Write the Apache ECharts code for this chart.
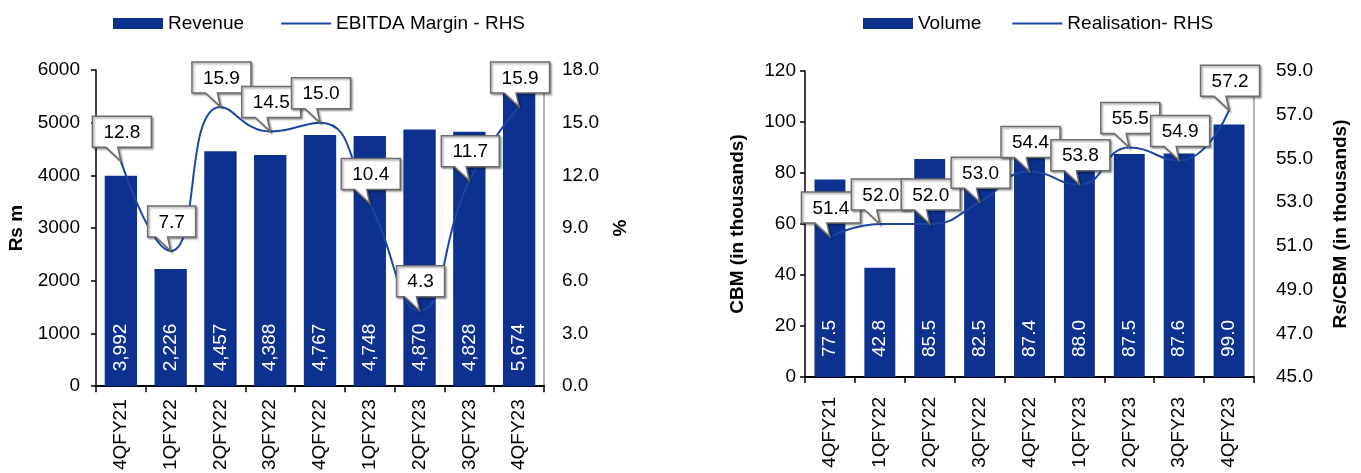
<!DOCTYPE html>
<html>
<head>
<meta charset="utf-8">
<script src="https://cdn.jsdelivr.net/npm/echarts@6/dist/echarts.min.js"></script>
<style>
  html, body { margin: 0; padding: 0; background: #fff; }
  #chart { width: 1361px; height: 473px; }
</style>
</head>
<body>
<div id="chart"></div>
<script>
// Quarterly data
const quarters = ['4QFY21', '1QFY22', '2QFY22', '3QFY22', '4QFY22', '1QFY23', '2QFY23', '3QFY23', '4QFY23'];
const revenue = [3992, 2226, 4457, 4388, 4767, 4748, 4870, 4828, 5674];          // Rs m
const ebitdaMargin = [12.8, 7.7, 15.9, 14.5, 15.0, 10.4, 4.3, 11.7, 15.9];        // %
const volume = [77.5, 42.8, 85.5, 82.5, 87.4, 88.0, 87.5, 87.6, 99.0];            // CBM ('000)
const realisation = [51.4, 52.0, 52.0, 53.0, 54.4, 53.8, 55.5, 54.9, 57.2];       // Rs/CBM ('000)

// Axis ranges [min, max, step]
const revenueRange = [0, 6000, 1000];
const marginRange = [0, 18, 3];
const volumeRange = [0, 120, 20];
const realisationRange = [45, 59, 2];

const FF = '"Liberation Sans", Arial, Helvetica, sans-serif';
const FS = 19;
const BAR = '#0c318f';
const LINE = '#1c45a4';

const measureCtx = document.createElement('canvas').getContext('2d');
function textWidth(s) {
  measureCtx.font = FS + 'px ' + FF;
  return measureCtx.measureText(s).width;
}

// Speech-bubble callout above each point, tail pointing at the point
function calloutRenderer(params, api) {
  const val = api.value(1);
  const pt = api.coord([api.value(0), val]);
  const label = val.toFixed(1);
  const w = Math.round(textWidth(label) + 22);
  const h = 31;
  const px = pt[0], py = pt[1];
  const x0 = px - w / 2 + 1, x1 = x0 + w;
  const y1 = py - 14, y0 = y1 - h;
  return {
    type: 'group',
    children: [
      {
        type: 'polygon',
        shape: { points: [[x0, y0], [x1, y0], [x1, y1], [px - 3, y1], [px, py], [px - 15, y1], [x0, y1]] },
        style: {
          fill: '#fff', stroke: '#6b6b6b', lineWidth: 1.5,
          shadowBlur: 2, shadowOffsetX: 1.5, shadowOffsetY: 1.5, shadowColor: 'rgba(0,0,0,0.35)'
        }
      },
      {
        type: 'text',
        style: {
          text: label, x: (x0 + x1) / 2, y: (y0 + y1) / 2 + 1,
          align: 'center', verticalAlign: 'middle',
          fontSize: FS, fontFamily: FF, fill: '#000'
        }
      }
    ]
  };
}

function categoryAxis(gridIndex, margin) {
  return {
    type: 'category', gridIndex: gridIndex, data: quarters, boundaryGap: true,
    axisLine: { lineStyle: { color: '#000', width: 2 } },
    axisTick: { show: true, length: 6, lineStyle: { color: '#000', width: 1.5 } },
    axisLabel: { rotate: 90, margin: margin, interval: 0, color: '#000', fontSize: FS, fontFamily: FF }
  };
}

function leftAxis(gridIndex, range, name, nameGap, margin, fmt) {
  return {
    type: 'value', gridIndex: gridIndex, position: 'left',
    min: range[0], max: range[1], interval: range[2],
    name: name, nameLocation: 'middle', nameGap: nameGap, nameRotate: 90,
    nameTextStyle: { fontWeight: 'bold', fontSize: FS, fontFamily: FF, color: '#000' },
    splitLine: { show: false },
    axisLine: { show: true, lineStyle: { color: '#000', width: 1.5 } },
    axisTick: { show: true, length: 5, lineStyle: { color: '#000', width: 1.5 } },
    axisLabel: { margin: margin, color: '#000', fontSize: FS, fontFamily: FF, formatter: fmt }
  };
}

function rightAxis(gridIndex, range, name, nameGap, margin) {
  return {
    type: 'value', gridIndex: gridIndex, position: 'right',
    min: range[0], max: range[1], interval: range[2],
    name: name, nameLocation: 'middle', nameGap: nameGap, nameRotate: 90,
    nameTextStyle: { fontWeight: 'bold', fontSize: FS, fontFamily: FF, color: '#000' },
    splitLine: { show: false },
    axisLine: { show: true, lineStyle: { color: '#9a9a9a', width: 1.5 } },
    axisTick: { show: false },
    axisLabel: { margin: margin, color: '#000', fontSize: FS, fontFamily: FF, formatter: v => v.toFixed(1) }
  };
}

function legend(left, gap, names) {
  return {
    left: left, top: 14, padding: 0, itemWidth: 50, itemHeight: 11, itemGap: gap,
    textStyle: { fontSize: FS, fontFamily: FF, color: '#000' },
    data: [
      { name: names[0], icon: 'rect' },
      { name: names[1], itemStyle: { opacity: 0 } }   // plain line, no marker
    ]
  };
}

const chart = echarts.init(document.getElementById('chart'), null, { renderer: 'canvas' });
chart.setOption({
  animation: false,
  backgroundColor: '#fff',
  legend: [
    legend(113, 36, ['Revenue', 'EBITDA Margin - RHS']),
    legend(863, 30, ['Volume', 'Realisation- RHS'])
  ],
  grid: [
    { left: 96, right: 817, top: 70, height: 318 },
    { left: 805, right: 107, top: 71, height: 306 }
  ],
  xAxis: [categoryAxis(0, 13), categoryAxis(1, 20)],
  yAxis: [
    leftAxis(0, revenueRange, 'Rs m', 70, 16, v => String(v)),
    rightAxis(0, marginRange, '%', 67, 18),
    leftAxis(1, volumeRange, 'CBM (in thousands)', 58, 9, v => String(v)),
    rightAxis(1, realisationRange, 'Rs/CBM (in thousands)', 77, 22)
  ],
  series: [
    {
      name: 'Revenue', type: 'bar', xAxisIndex: 0, yAxisIndex: 0, data: revenue,
      barWidth: '65%', itemStyle: { color: BAR },
      label: {
        show: true, position: 'insideBottom', distance: 15, rotate: 90, align: 'left', verticalAlign: 'middle',
        color: '#fff', fontSize: FS, fontFamily: FF,
        formatter: p => p.value.toLocaleString('en-US')
      }
    },
    {
      name: 'EBITDA Margin - RHS', type: 'line', xAxisIndex: 0, yAxisIndex: 1, data: ebitdaMargin,
      smooth: true, symbol: 'none', z: 3, lineStyle: { color: LINE, width: 2 }, itemStyle: { color: LINE }
    },
    {
      type: 'custom', xAxisIndex: 0, yAxisIndex: 1, z: 5, clip: false,
      renderItem: calloutRenderer, data: ebitdaMargin.map((v, i) => [i, v])
    },
    {
      name: 'Volume', type: 'bar', xAxisIndex: 1, yAxisIndex: 2, data: volume,
      barWidth: '62%', itemStyle: { color: BAR },
      label: {
        show: true, position: 'insideBottom', distance: 20, rotate: 90, align: 'left', verticalAlign: 'middle',
        color: '#fff', fontSize: FS, fontFamily: FF,
        formatter: p => p.value.toFixed(1)
      }
    },
    {
      name: 'Realisation- RHS', type: 'line', xAxisIndex: 1, yAxisIndex: 3, data: realisation,
      smooth: true, symbol: 'none', z: 3, lineStyle: { color: LINE, width: 2 }, itemStyle: { color: LINE }
    },
    {
      type: 'custom', xAxisIndex: 1, yAxisIndex: 3, z: 5, clip: false,
      renderItem: calloutRenderer, data: realisation.map((v, i) => [i, v])
    }
  ]
});
</script>
</body>
</html>
